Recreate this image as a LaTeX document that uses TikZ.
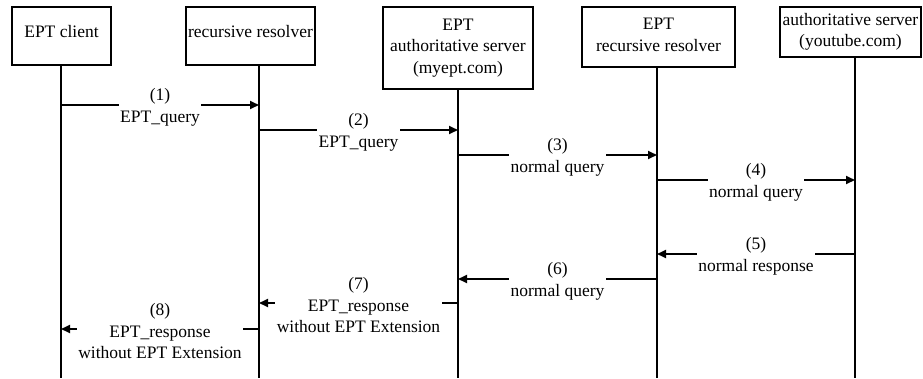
\documentclass[tikz,border=0pt]{standalone}
\usepackage{fontspec}
\setmainfont{Liberation Serif}
\usetikzlibrary{arrows.meta}
\begin{document}
\begin{tikzpicture}[x=1pt,y=-1pt,
  actor/.style={draw,line width=1.6pt,inner sep=0pt,align=center,
    font=\fontsize{17.5}{21.5}\selectfont},
  life/.style={line width=1.1pt},
  msg/.style={line width=1.8pt,-{Triangle[length=9pt,width=8pt]}},
  lbl/.style={fill=white,inner xsep=1.5pt,inner ysep=0pt,align=center,
    yshift=-2.5pt,font=\fontsize{17.5}{21.5}\selectfont}]
\useasboundingbox (0,0) rectangle (923,378);

% participants
\node[actor,minimum width=99pt,minimum height=58pt] (a1) at (61.5,36) {};
\node[actor,draw=none,yshift=4pt] (t1) at (a1.center) {EPT client};
\node[actor,minimum width=129pt,minimum height=58pt] (a2) at (250.5,36) {};
\node[actor,draw=none,yshift=4pt] (t2) at (a2.center) {recursive resolver};
\node[actor,minimum width=150pt,minimum height=82pt] (a3) at (458,48) {EPT\\authoritative server\\(myept.com)};
\node[actor,minimum width=153pt,minimum height=60pt] (a4) at (658.5,37) {};
\node[actor,draw=none,yshift=2pt] (t4) at (a4.center) {EPT\\recursive resolver};
\node[actor,minimum width=141pt,minimum height=50pt] (a5) at (850.5,32) {authoritative server\\(youtube.com)};

% lifeline ends
\coordinate (e1) at (61,378);
\coordinate (e2) at (259,378);
\coordinate (e3) at (458,378);
\coordinate (e4) at (657,378);
\coordinate (e5) at (855,378);
\draw[life] (a1.south -| e1) -- (e1);
\draw[life] (a2.south -| e2) -- (e2);
\draw[life] (a3.south -| e3) -- (e3);
\draw[life] (a4.south -| e4) -- (e4);
\draw[life] (a5.south -| e5) -- (e5);

% message heights
\foreach \i/\y in {1/105,2/130,3/155,4/180,5/254,6/279,7/303,8/329}{
  \coordinate (m\i a) at (0,\y);
}
\draw[msg] (m1a -| e1) -- node[lbl]{(1)\\EPT\_query} (m1a -| e2);
\draw[msg] (m2a -| e2) -- node[lbl]{(2)\\EPT\_query} (m2a -| e3);
\draw[msg] (m3a -| e3) -- node[lbl]{(3)\\normal query} (m3a -| e4);
\draw[msg] (m4a -| e4) -- node[lbl]{(4)\\normal query} (m4a -| e5);
\draw[msg] (m5a -| e5) -- node[lbl]{(5)\\normal response} (m5a -| e4);
\draw[msg] (m6a -| e4) -- node[lbl]{(6)\\normal query} (m6a -| e3);
\draw[msg] (m7a -| e3) -- node[lbl]{(7)\\EPT\_response\\without EPT Extension} (m7a -| e2);
\draw[msg] (m8a -| e2) -- node[lbl]{(8)\\EPT\_response\\without EPT Extension} (m8a -| e1);
\end{tikzpicture}
\end{document}
